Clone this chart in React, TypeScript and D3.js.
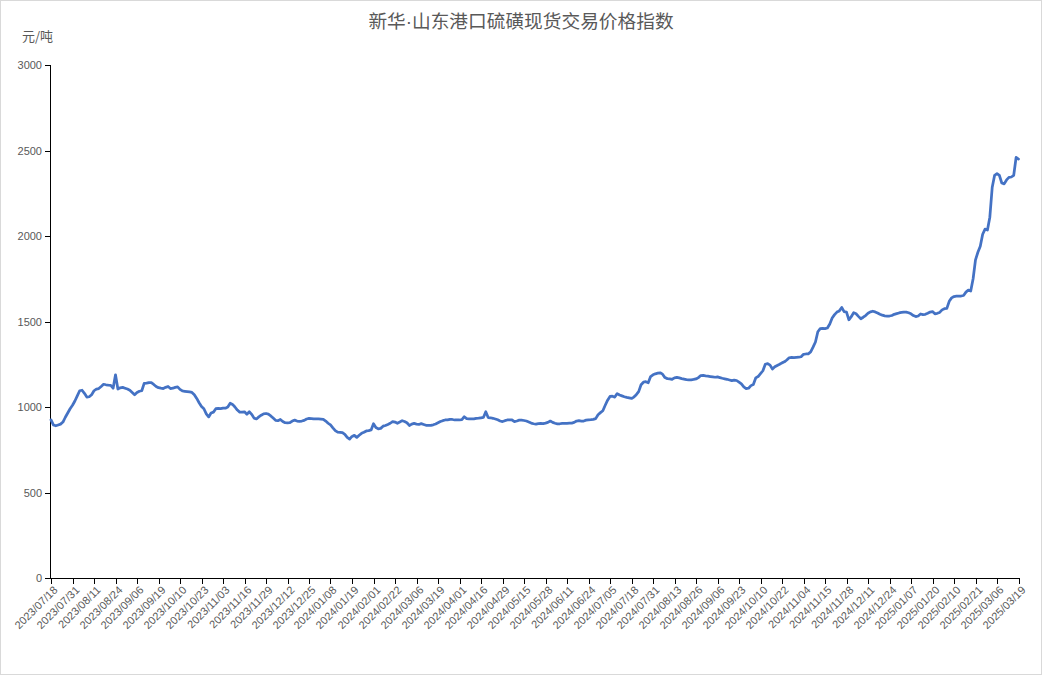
import React from "react";
import * as d3 from "d3";

const titleLeft = "新华";
const titleDot = "·";
const titleRight = "山东港口硫磺现货交易价格指数";
const unitLabel = "元/吨";
const yTicks = [0, 500, 1000, 1500, 2000, 2500, 3000];
const tickLabels = [
  "2023/07/18", "2023/07/31", "2023/08/11", "2023/08/24", "2023/09/06", "2023/09/19",
  "2023/10/10", "2023/10/23", "2023/11/03", "2023/11/16", "2023/11/29", "2023/12/12",
  "2023/12/25", "2024/01/08", "2024/01/19", "2024/02/01", "2024/02/22", "2024/03/06",
  "2024/03/19", "2024/04/01", "2024/04/16", "2024/04/29", "2024/05/15", "2024/05/28",
  "2024/06/11", "2024/06/24", "2024/07/05", "2024/07/18", "2024/07/31", "2024/08/13",
  "2024/08/26", "2024/09/06", "2024/09/23", "2024/10/10", "2024/10/22", "2024/11/04",
  "2024/11/15", "2024/11/28", "2024/12/11", "2024/12/24", "2025/01/07", "2025/01/20",
  "2025/02/10", "2025/02/21", "2025/03/06", "2025/03/19",
];
const tickEvery = 9;

// daily index values (one row per labelled interval of 9 trading days)
const values = [
  925, 895, 890, 895, 900, 912, 940, 965, 990,
  1010, 1035, 1065, 1095, 1098, 1080, 1058, 1060, 1072,
  1095, 1105, 1108, 1120, 1133, 1130, 1128, 1127, 1110,
  1188, 1105, 1112, 1115, 1110, 1105, 1098, 1085, 1072,
  1085, 1092, 1095, 1138, 1140, 1143, 1142, 1132, 1120,
  1113, 1110, 1108, 1115, 1120, 1108, 1110, 1115, 1118,
  1103, 1094, 1092, 1090, 1088, 1085, 1072, 1050, 1025,
  1003, 990, 960, 942, 965, 970, 990, 992, 990,
  993, 993, 1000, 1022, 1015, 1000, 982, 970, 970,
  972, 958, 972, 957, 935, 930, 942, 952, 960,
  962, 958, 948, 935, 922, 920, 927, 915, 908,
  907, 908, 918, 923, 918, 916, 918, 922, 930,
  933, 932, 930, 931, 930, 929, 928, 918, 905,
  895, 878, 862, 853, 852, 850, 840, 822, 812,
  828, 834, 822, 835, 846, 852, 860, 862, 866,
  902, 880, 872, 875, 888, 892, 898, 905, 915,
  912, 905, 912, 920, 915, 908, 892, 900, 904,
  900, 898, 903, 898, 893, 892, 893, 896, 901,
  908, 915, 920, 924, 925, 928, 927, 924, 924,
  924, 926, 943, 932, 930, 930, 931, 934, 935,
  937, 939, 972, 938, 937, 934, 930, 925, 918,
  915, 920, 924, 924, 924, 915, 918, 923, 923,
  921, 918, 912, 906, 902, 900, 903, 904, 903,
  906, 910, 918, 910, 905, 901, 902, 904, 904,
  904, 905, 906, 910, 918, 920, 918, 918, 923,
  925, 926, 928, 932, 955, 967, 978, 1010, 1040,
  1062, 1063, 1058, 1078, 1070, 1065, 1060, 1056, 1053,
  1050, 1058, 1072, 1090, 1130, 1145, 1148, 1142, 1178,
  1188, 1194, 1198, 1200, 1192, 1172, 1166, 1165, 1162,
  1170, 1173, 1170, 1166, 1163, 1160, 1158, 1159, 1161,
  1164, 1172, 1184, 1185, 1182, 1180, 1178, 1176, 1174,
  1176, 1172, 1168, 1165, 1162, 1158, 1154, 1157, 1155,
  1145, 1135, 1118, 1108, 1110, 1125, 1132, 1170, 1178,
  1195, 1212, 1250, 1254, 1245, 1222, 1235, 1243, 1250,
  1258, 1264, 1275, 1288, 1290, 1289, 1290, 1291, 1294,
  1308, 1310, 1311, 1322, 1350, 1380, 1440, 1458, 1460,
  1458, 1462, 1485, 1520, 1540, 1555, 1562, 1582, 1558,
  1555, 1510, 1528, 1552, 1545, 1530, 1516, 1525, 1535,
  1548, 1556, 1560, 1556, 1550, 1543, 1537, 1533, 1532,
  1532, 1535, 1542, 1546, 1550, 1553, 1555, 1555, 1551,
  1545, 1535, 1529, 1532, 1544, 1540, 1542, 1548, 1555,
  1558, 1545, 1548, 1553, 1568, 1575, 1577, 1618, 1638,
  1646, 1648, 1649, 1649, 1652, 1672, 1684, 1678, 1750,
  1860, 1905, 1940, 2010, 2040, 2035, 2110, 2285, 2355,
  2365, 2355, 2310, 2305, 2328, 2343, 2345, 2355, 2460,
  2450,
];

const W = 1042;
const H = 675;
const plotLeft = 51;
const plotRight = 1018.5;
const plotTop = 65;
const plotBottom = 578;
const textColor = "#595959";
const font = "Arial, 'Liberation Sans', sans-serif";
const cjk = "'Noto Sans CJK SC', sans-serif";

export default function App() {
  const x = d3.scaleLinear().domain([0, values.length - 1]).range([plotLeft, plotRight]);
  const y = d3.scaleLinear().domain([0, 3000]).range([plotBottom, plotTop]);
  const line = d3
    .line<number>()
    .x((_, i) => x(i))
    .y((d) => y(d));

  return (
    <svg
      width={W}
      height={H}
      style={{ position: "absolute", left: 0, top: 0, background: "#fff" }}
      fontFamily={font}
    >
      <rect x={0.5} y={0.5} width={W - 1} height={H - 1} fill="#fff" stroke="#d9d9d9" />
      <text x={521} y={28} textAnchor="middle" fontSize={18.7} fill={textColor} fontFamily={cjk}>
        <tspan>{titleLeft}</tspan>
        <tspan fontFamily={font}>{titleDot}</tspan>
        <tspan>{titleRight}</tspan>
      </text>
      <text x={22} y={41} fontSize={13} fill={textColor} fontFamily={cjk}>
        {unitLabel}
      </text>

      {/* y axis */}
      <line x1={plotLeft - 0.5} x2={plotLeft - 0.5} y1={y(3000)} y2={plotBottom} stroke="#000" />
      {yTicks.map((t) => (
        <g key={t} transform={`translate(0,${Math.round(y(t)) + 0.5})`}>
          <line x1={plotLeft - 6} x2={plotLeft} stroke="#000" />
          <text x={plotLeft - 9} dy="0.35em" textAnchor="end" fontSize={11} fill={textColor}>
            {t}
          </text>
        </g>
      ))}

      {/* x axis */}
      <line x1={plotLeft - 1} x2={plotRight + 1} y1={plotBottom + 0.5} y2={plotBottom + 0.5} stroke="#000" />
      {tickLabels.map((lab, k) => {
        const xi = Math.round(x(k * tickEvery)) + 0.5;
        return (
          <g key={lab} transform={`translate(${xi},${plotBottom})`}>
            <line y1={0} y2={6} stroke="#000" />
            <text
              transform="translate(4,10) rotate(-45)"
              textAnchor="end"
              dy="0.35em"
              fontSize={11}
              fill={textColor}
            >
              {lab}
            </text>
          </g>
        );
      })}

      <path d={line(values) || ""} fill="none" stroke="#4472C4" strokeWidth={2.75}
        strokeLinejoin="round" strokeLinecap="round" />
    </svg>
  );
}
